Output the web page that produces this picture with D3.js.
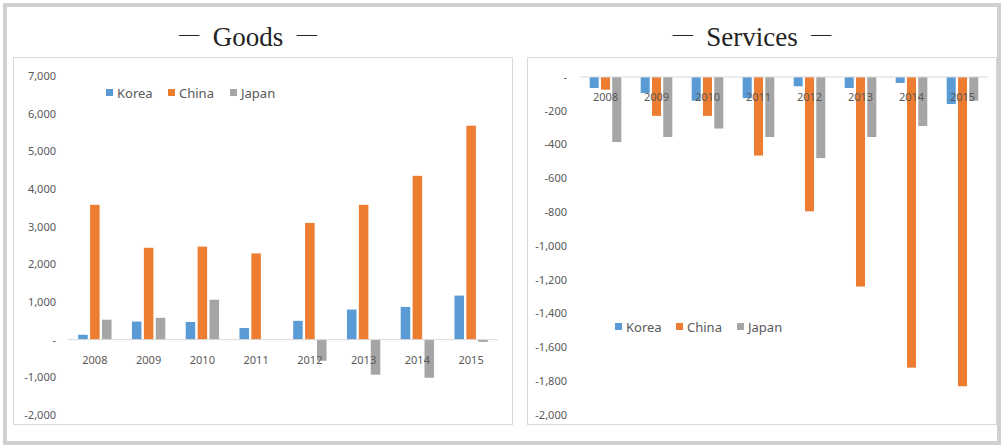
<!DOCTYPE html>
<html>
<head>
<meta charset="utf-8">
<script src="https://cdn.jsdelivr.net/npm/d3@7"></script>
<style>
  body { margin:0; background:#fff; }
  svg text { font-family: "Noto Sans", "Open Sans", sans-serif; }
</style>
</head>
<body>
<div id="chart"></div>
<script>
// data
var years = ["2008","2009","2010","2011","2012","2013","2014","2015"];
var series = ["Korea","China","Japan"];
var colors = ["#5b9bd5","#ed7d31","#a5a5a5"];

var goodsKorea = [130, 480, 470, 310, 500, 800, 870, 1170];
var goodsChina = [3580, 2440, 2470, 2290, 3100, 3580, 4350, 5680];
var goodsJapan = [530, 580, 1060, 0, -560, -930, -1010, -60];

var servKorea = [-65, -95, -140, -125, -55, -65, -35, -160];
var servChina = [-75, -230, -230, -465, -795, -1240, -1720, -1830];
var servJapan = [-385, -355, -305, -355, -480, -355, -290, -140];

var goodsTicks = [7000, 6000, 5000, 4000, 3000, 2000, 1000, 0, -1000, -2000];
var servTicks = [0, -200, -400, -600, -800, -1000, -1200, -1400, -1600, -1800, -2000];

var W = 1004, H = 446;
var svg = d3.select("#chart").append("svg")
    .attr("width", W)
    .attr("height", H);

// outer frame
svg.append("rect")
   .attr("x", 5).attr("y", 5)
   .attr("width", 994).attr("height", 438)
   .style("fill","none")
   .style("stroke","#d0d0d0")
   .style("stroke-width", 4);

function fmt(d){
  if (d === 0) return "-";
  var s = d3.format(",")(Math.abs(d));
  return d < 0 ? "-" + s : s;
}

function drawPanel(opt){
  var g = svg.append("g");

  // panel box
  g.append("rect")
   .attr("x", opt.box[0]).attr("y", opt.box[1])
   .attr("width", opt.box[2]).attr("height", opt.box[3])
   .style("fill","#fff")
   .style("stroke","#d9d9d9")
   .style("stroke-width",1);

  // title, dashes lifted to mid height
  var t = g.append("text")
   .attr("x", opt.titleX)
   .attr("y", 46)
   .style("text-anchor","middle")
   .style("font-family","'Liberation Serif', 'DejaVu Serif', serif")
   .style("font-size","27px")
   .style("fill","#222");
  t.append("tspan").text("\u2014").attr("dy",-5).style("font-size","20px");
  t.append("tspan").text("\u00A0\u00A0" + opt.title + "\u00A0\u00A0").attr("dy",5);
  t.append("tspan").text("\u2014").attr("dy",-5).style("font-size","20px");

  var y = d3.scaleLinear().domain(opt.ydom).range(opt.yrange);
  var x0 = d3.scaleBand().domain(years).range(opt.xrange);
  var bw = x0.bandwidth();
  var x1 = d3.scaleBand().domain(series)
      .range([bw*0.19, bw*0.81]).paddingInner(0.2);

  // y labels
  g.selectAll(".ylab")
   .data(opt.ticks)
   .enter()
   .append("text")
   .text(fmt)
   .attr("x", opt.labelX)
   .attr("y", function(d){ return y(d); })
   .attr("dy","0.35em")
   .style("text-anchor","end")
   .style("font-size","11px")
   .style("fill","#595959");

  // bars
  var data = [];
  opt.values.forEach(function(arr, si){
    arr.forEach(function(v, i){
      data.push({year: years[i], s: series[si], v: v, c: colors[si]});
    });
  });
  g.selectAll(".bar")
   .data(data)
   .enter()
   .append("rect")
   .attr("x", function(d){ return x0(d.year) + x1(d.s); })
   .attr("width", x1.bandwidth())
   .attr("y", function(d){ return Math.min(y(d.v), y(0)); })
   .attr("height", function(d){ return Math.abs(y(d.v) - y(0)); })
   .style("fill", function(d){ return d.c; });

  // zero line
  g.append("line")
   .attr("x1", opt.xrange[0]).attr("x2", opt.xrange[1])
   .attr("y1", y(0)).attr("y2", y(0))
   .style("stroke","#d9d9d9")
   .style("stroke-width",1);

  // category labels
  g.selectAll(".xlab")
   .data(years)
   .enter()
   .append("text")
   .text(function(d){ return d; })
   .attr("x", function(d){ return x0(d) + bw/2; })
   .attr("y", opt.catY)
   .attr("dy","0.35em")
   .style("text-anchor","middle")
   .style("font-size","11px")
   .style("fill","#595959");

  // legend
  var lg = g.selectAll(".leg")
   .data(series)
   .enter()
   .append("g")
   .attr("transform", function(d,i){
     return "translate(" + (opt.legX + i*opt.legStep) + "," + opt.legY + ")";
   });
  lg.append("rect")
   .attr("x",0).attr("y",-4)
   .attr("width",7).attr("height",7)
   .style("fill", function(d,i){ return colors[i]; });
  lg.append("text")
   .text(function(d){ return d; })
   .attr("x",11)
   .attr("y",0)
   .attr("dy","0.35em")
   .style("font-size","13px")
   .style("fill","#595959");
}

drawPanel({
  title: "Goods", titleX: 248,
  box: [13.5, 57.5, 499, 367],
  ydom: [-2000, 7000], yrange: [415, 76],
  xrange: [68, 498],
  ticks: goodsTicks, labelX: 56,
  values: [goodsKorea, goodsChina, goodsJapan],
  catY: 360,
  legX: 106, legY: 93, legStep: 62
});

drawPanel({
  title: "Services", titleX: 752,
  box: [527.5, 57.5, 469, 367],
  ydom: [-2000, 0], yrange: [415, 77],
  xrange: [580, 988],
  ticks: servTicks, labelX: 567,
  values: [servKorea, servChina, servJapan],
  catY: 97,
  legX: 615, legY: 327, legStep: 61
});
</script>
</body>
</html>
